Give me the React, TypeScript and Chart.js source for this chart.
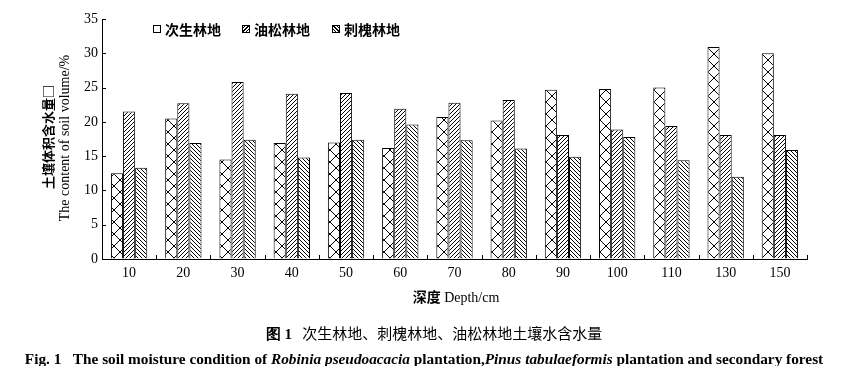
import React, { useEffect, useRef } from "react";
import { Chart, registerables } from "chart.js";

Chart.register(...registerables);

const depths = ["10", "20", "30", "40", "50", "60", "70", "80", "90", "100", "110", "130", "150"];
const secondaryForest = [12.5, 20.5, 14.5, 16.9, 17.0, 16.2, 20.7, 20.2, 24.7, 24.8, 25.0, 30.9, 30.0];
const pinusForest = [21.5, 22.7, 25.8, 24.1, 24.2, 21.9, 22.8, 23.2, 18.1, 18.9, 19.4, 18.1, 18.1];
const robiniaForest = [13.3, 16.9, 17.4, 14.8, 17.4, 19.6, 17.3, 16.1, 14.9, 17.8, 14.4, 12.0, 15.9];
const seriesNames = ["次生林地", "油松林地", "刺槐林地"];
const yTicks = [0, 5, 10, 15, 20, 25, 30, 35];

const CJK = '"Noto Sans CJK SC", "Noto Sans", sans-serif';
const SERIF = '"Liberation Serif", "DejaVu Serif", serif';

function makePattern(ctx: CanvasRenderingContext2D, kind: string) {
  const c = document.createElement("canvas");
  const s = kind === "cross" ? 12 : 4;
  c.width = s;
  c.height = s;
  const g = c.getContext("2d")!;
  g.fillStyle = "#fff";
  g.fillRect(0, 0, s, s);
  g.strokeStyle = "#000";
  g.lineWidth = 1;
  g.beginPath();
  if (kind === "cross") {
    g.moveTo(0, 0);
    g.lineTo(s, s);
    g.moveTo(s, 0);
    g.lineTo(0, s);
  } else if (kind === "fwd") {
    g.moveTo(-1, s + 1);
    g.lineTo(s + 1, -1);
    g.moveTo(-1, 1);
    g.lineTo(1, -1);
    g.moveTo(s - 1, s + 1);
    g.lineTo(s + 1, s - 1);
  } else {
    g.moveTo(-1, -1);
    g.lineTo(s + 1, s + 1);
    g.moveTo(s - 1, -1);
    g.lineTo(s + 1, 1);
    g.moveTo(-1, s - 1);
    g.lineTo(1, s + 1);
  }
  g.stroke();
  return ctx.createPattern(c, "repeat")!;
}

const inwardTicks = {
  id: "inwardTicks",
  afterDraw(chart: any) {
    const { ctx, scales } = chart;
    const x = scales.x;
    const y = scales.y;
    ctx.save();
    ctx.strokeStyle = "#000";
    ctx.lineWidth = 1;
    ctx.beginPath();
    const left = chart.chartArea.left;
    const bottom = chart.chartArea.bottom;
    yTicks.forEach((v) => {
      const py = Math.round(y.getPixelForValue(v)) + 0.5;
      ctx.moveTo(left, py);
      ctx.lineTo(left + 4, py);
    });
    for (let i = 1; i <= depths.length; i++) {
      const px = Math.round(x.getPixelForValue(i - 0.5)) + 0.5;
      ctx.moveTo(px, bottom);
      ctx.lineTo(px, bottom - 4);
    }
    ctx.stroke();
    ctx.restore();
  },
};

export default function App() {
  const ref = useRef<HTMLCanvasElement | null>(null);

  useEffect(() => {
    const canvas = ref.current!;
    const ctx = canvas.getContext("2d")!;
    const patterns = [makePattern(ctx, "cross"), makePattern(ctx, "fwd"), makePattern(ctx, "back")];
    const values = [secondaryForest, pinusForest, robiniaForest];
    const chart = new Chart(canvas, {
      type: "bar",
      data: {
        labels: depths,
        datasets: values.map((d, i) => ({
          label: seriesNames[i],
          data: d,
          backgroundColor: patterns[i] as any,
          borderColor: "#000",
          borderWidth: 1,
          barPercentage: 1,
          categoryPercentage: 0.67,
        })),
      },
      options: {
        responsive: false,
        animation: false,
        events: [],
        layout: { padding: { left: 62, right: 35, top: 19, bottom: 85 } },
        plugins: { legend: { display: false }, tooltip: { enabled: false } },
        scales: {
          x: {
            grid: { display: true, drawOnChartArea: false, drawTicks: false },
            border: { display: true, color: "#000", width: 1 },
            ticks: { color: "#000", font: { family: SERIF, size: 14 }, padding: 6 },
            afterFit: (s: any) => {
              s.height = 30;
            },
          },
          y: {
            min: 0,
            max: 35,
            grid: { display: true, drawOnChartArea: false, drawTicks: false },
            border: { display: true, color: "#000", width: 1 },
            ticks: { stepSize: 5, color: "#000", font: { family: SERIF, size: 14 }, padding: 4 },
            afterFit: (s: any) => {
              s.width = 40;
            },
          },
        },
      },
      plugins: [inwardTicks],
    });
    return () => chart.destroy();
  }, []);

  const legendIcon = (bg: string): React.CSSProperties => ({
    display: "inline-block",
    width: 6,
    height: 6,
    border: "1px solid #000",
    background: bg,
    marginRight: 4,
    verticalAlign: "middle",
  });
  const iconBgs = [
    "#fff",
    "repeating-linear-gradient(-45deg, #fff 0px, #fff 1.5px, #000 1.5px, #000 2.5px)",
    "repeating-linear-gradient(45deg, #fff 0px, #fff 1.5px, #000 1.5px, #000 2.5px)",
  ];
  const legendX = [153, 242, 332];

  return (
    <div style={{ position: "relative", width: 842, height: 374, margin: -8, background: "#fff", overflow: "hidden" }}>
      <canvas ref={ref} width={842} height={374} style={{ position: "absolute", left: 0, top: 0 }} />
      {seriesNames.map((n, i) => (
        <div
          key={n}
          style={{
            position: "absolute",
            left: legendX[i],
            top: 17,
            fontFamily: CJK,
            fontWeight: 700,
            fontSize: 14,
            lineHeight: "20px",
            whiteSpace: "nowrap",
            color: "#000",
          }}
        >
          <span style={legendIcon(iconBgs[i])} />
          <span style={{ verticalAlign: "middle" }}>{n}</span>
        </div>
      ))}
      <div
        style={{
          position: "absolute",
          left: 47,
          top: 137,
          transform: "translate(-50%, -50%) rotate(-90deg)",
          whiteSpace: "nowrap",
          fontFamily: CJK,
          fontWeight: 700,
          fontSize: 13,
          color: "#000",
        }}
      >
        土壤体积含水量□
      </div>
      <div
        style={{
          position: "absolute",
          left: 65,
          top: 138,
          transform: "translate(-50%, -50%) rotate(-90deg)",
          whiteSpace: "nowrap",
          fontFamily: SERIF,
          fontSize: 14,
          color: "#000",
        }}
      >
        The content of soil volume/%
      </div>
      <div
        style={{
          position: "absolute",
          left: 456,
          top: 296,
          transform: "translate(-50%, -50%)",
          whiteSpace: "nowrap",
          fontSize: 14,
          color: "#000",
        }}
      >
        <span style={{ fontFamily: CJK, fontWeight: 700 }}>深度</span>
        <span style={{ fontFamily: SERIF }}> Depth/cm</span>
      </div>
      <div
        style={{
          position: "absolute",
          left: 434,
          top: 333,
          transform: "translate(-50%, -50%)",
          whiteSpace: "nowrap",
          fontSize: 15,
          color: "#000",
          fontFamily: CJK,
        }}
      >
        <span style={{ fontFamily: SERIF, fontWeight: 700 }}>图 1</span>
        <span>{"\u00a0\u00a0\u00a0"}次生林地、刺槐林地、油松林地土壤水含水量</span>
      </div>
      <div
        style={{
          position: "absolute",
          left: 424,
          top: 359,
          transform: "translate(-50%, -50%)",
          whiteSpace: "nowrap",
          fontSize: 15.3,
          lineHeight: "18px",
          fontWeight: 700,
          color: "#000",
          fontFamily: SERIF,
        }}
      >
        Fig. 1{"\u00a0\u00a0\u00a0"}The soil moisture condition of <i>Robinia pseudoacacia</i> plantation,
        <i>Pinus tabulaeformis</i> plantation and secondary forest
      </div>
    </div>
  );
}
